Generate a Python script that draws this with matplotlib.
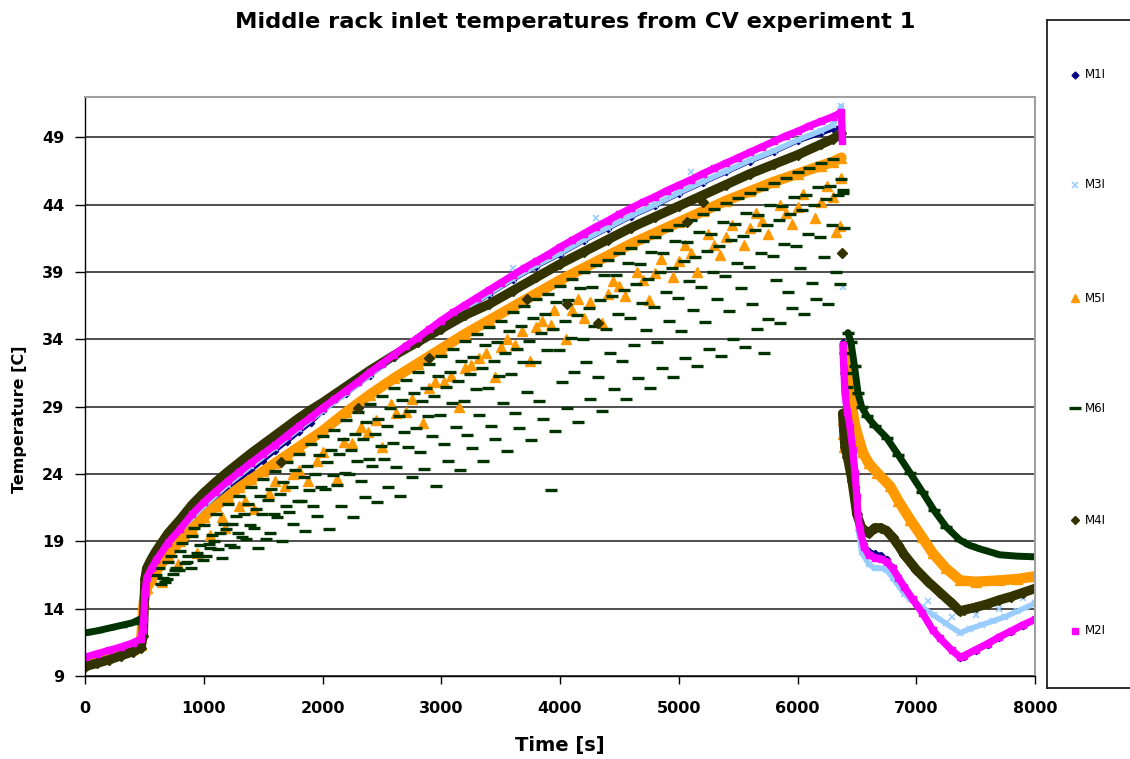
import numpy as np
import matplotlib
matplotlib.use("Agg")
import matplotlib.pyplot as plt
from matplotlib.lines import Line2D

nan = np.nan
W, H = 1130, 759

# ---------------- data ----------------
title = "Middle rack inlet temperatures from CV experiment 1"
x_label = "Time [s]"
y_label = "Temperature [C]"
x_ticks = [0, 1000, 2000, 3000, 4000, 5000, 6000, 7000, 8000]
y_ticks = [9, 14, 19, 24, 29, 34, 39, 44, 49]
series_names = ["M1I", "M3I", "M5I", "M6I", "M4I", "M2I"]

# M2I (magenta squares)
m2i_t = [0, 100, 200, 300, 400, 470, 485, 495, 505, 520, 560, 600, 700, 800, 900, 1000,
         1100, 1200, 1300, 1400, 1500, 1600, 1700, 1800, 1900, 2000, 2100, 2200, 2300,
         2400, 2500, 2600, 2700, 2800, 2900, 3000, 3100, 3200, 3300, 3400, 3500, 3600,
         3700, 3800, 3900, 4000, 4100, 4200, 4300, 4400, 4500, 4600, 4700, 4800, 4900,
         5000, 5100, 5200, 5300, 5400, 5500, 5600, 5700, 5800, 5900, 6000, 6100, 6200,
         6300, 6370, 6378, nan, 6382, 6390, 6400, 6420, 6442, 6465, 6484, 6500, 6510,
         6526, 6560, 6600, 6650, 6700, 6750, 6800, 6850, 6900, 6970, 7050, 7140, 7200,
         7300, 7370, 7400, 7500, 7600, 7700, 7800, 7900, 8000]
m2i_v = [10.4, 10.65, 10.9, 11.15, 11.45, 11.75, 12.4, 13.2, 15.2, 16.3, 17.0, 17.6, 18.9,
         19.9, 21.0, 21.9, 22.7, 23.45, 24.15, 24.85, 25.5, 26.15, 26.85, 27.55, 28.2,
         28.9, 29.55, 30.2, 30.85, 31.55, 32.2, 32.85, 33.5, 34.1, 34.75, 35.4, 36.0,
         36.55, 37.1, 37.65, 38.2, 38.75, 39.3, 39.8, 40.3, 40.85, 41.35, 41.85, 42.35,
         42.8, 43.3, 43.75, 44.2, 44.6, 45.05, 45.45, 45.85, 46.3, 46.7, 47.1, 47.5,
         47.9, 48.3, 48.7, 49.1, 49.45, 49.85, 50.2, 50.55, 50.85, 48.7, nan, 33.6, 31.8,
         30.0, 28.6, 27.5, 25.8, 24.1, 22.3, 20.8, 19.9, 18.6, 18.0, 17.8, 17.7, 17.5,
         17.0, 16.3, 15.6, 14.7, 13.7, 12.4, 11.8, 10.9, 10.4, 10.5, 10.95, 11.4, 11.9,
         12.35, 12.8, 13.2]

# M1I (navy diamonds)
m1i_t = [0, 100, 200, 300, 400, 470, 505, 520, 560, 600, 700, 800, 900, 1000, 1100, 1200,
         1300, 1400, 1500, 1600, 1700, 1800, 1900, 2000, 2200, 2400, 2600, 2800, 3000,
         3200, 3400, 3600, 3800, 4000, 4200, 4400, 4600, 4800, 5000, 5200, 5400, 5600,
         5800, 6000, 6200, 6300, 6370, nan, 6380, 6390, 6400, 6430, 6460, 6490, 6510,
         6530, 6560, 6600, 6650, 6700, 6750, 6800, 6900, 7000, 7100, 7200, 7300, 7370,
         7400, 7500, 7600, 7700, 7800, 7900, 8000]
m1i_v = [10.3, 10.55, 10.8, 11.05, 11.35, 11.65, 14.8, 15.7, 16.3, 16.9, 18.2, 19.3, 20.3,
         21.2, 22.1, 22.9, 23.6, 24.3, 25.0, 25.7, 26.4, 27.1, 27.8, 28.65, 29.95, 31.3,
         32.6, 33.85, 35.1, 36.2, 37.3, 38.4, 39.4, 40.3, 41.3, 42.2, 43.1, 43.9, 44.8,
         45.6, 46.4, 47.2, 47.9, 48.7, 49.3, 49.6, 49.8, nan, 33.8, 32.0, 30.5, 28.5,
         26.0, 23.0, 20.5, 19.5, 18.8, 18.3, 18.1, 18.0, 17.7, 17.1, 15.7, 14.3, 12.9,
         11.8, 10.9, 10.3, 10.4, 10.85, 11.3, 11.8, 12.25, 12.7, 13.1]

# M3I (light blue crosses)
m3i_t = [0, 200, 400, 470, 490, 510, 550, 600, 700, 800, 900, 1000, 1200, 1400, 1600,
         1800, 2000, 2200, 2400, 2600, 2800, 3000, 3200, 3400, 3600, 3800, 4000, 4200,
         4400, 4600, 4800, 5000, 5200, 5400, 5600, 5800, 6000, 6200, 6300, 6370, nan,
         6385, 6400, 6440, 6480, 6510, 6540, 6600, 6650, 6700, 6750, 6800, 6900, 6950,
         7050, 7150, 7250, 7370, 7450, 7550, 7650, 7750, 7850, 8000]
m3i_v = [10.2, 10.75, 11.3, 11.6, 13.8, 15.0, 16.2, 17.2, 18.6, 19.6, 20.6, 21.6, 23.2,
         24.6, 25.95, 27.35, 28.7, 30.0, 31.35, 32.65, 33.9, 35.2, 36.3, 37.4, 38.5,
         39.5, 40.4, 41.4, 42.3, 43.2, 44.0, 44.9, 45.7, 46.5, 47.3, 48.0, 48.8, 49.5,
         49.9, 51.3, nan, 32.5, 29.5, 26.5, 23.0, 20.0, 18.2, 17.3, 17.0, 17.0, 16.9,
         16.3, 15.1, 14.7, 14.1, 13.5, 12.9, 12.2, 12.5, 12.8, 13.1, 13.4, 13.8, 14.4]
m3i_extra_t = [6380, 3600, 4300, 5100, 7100, 7300, 7500, 7700, 7900]
m3i_extra_v = [37.9, 39.3, 43.0, 46.4, 14.6, 13.4, 13.5, 14.0, 14.8]

# M5I (orange triangles): main band + scattered points
m5i_t = [0, 200, 400, 470, 495, 520, 560, 600, 700, 800, 900, 1000, 1100, 1200, 1300,
         1400, 1500, 1600, 1700, 1800, 1900, 2000, 2200, 2400, 2600, 2800, 3000, 3200,
         3400, 3600, 3800, 4000, 4200, 4400, 4600, 4800, 5000, 5200, 5400, 5600, 5800,
         6000, 6200, 6300, 6370, nan, 6400, 6420, 6440, 6460, 6480, 6500, 6550, 6600,
         6670, 6780, 6850, 6950, 7050, 7140, 7250, 7370, 7500, 7700, 7850, 8000]
m5i_v = [10.0, 10.5, 11.0, 11.3, 14.5, 15.5, 16.2, 16.8, 18.0, 19.0, 19.9, 20.8, 21.6,
         22.3, 23.0, 23.6, 24.2, 24.8, 25.4, 26.0, 26.6, 27.2, 28.6, 29.9, 31.1, 32.2,
         33.3, 34.4, 35.4, 36.4, 37.4, 38.4, 39.3, 40.2, 41.1, 41.9, 42.7, 43.5, 44.3,
         45.0, 45.7, 46.3, 46.9, 47.2, 47.5, nan, 33.5, 32.5, 31.0, 29.0, 27.8, 27.1,
         25.6, 24.8, 24.1, 23.1, 22.0, 20.6, 19.3, 18.1, 17.0, 16.1, 16.0, 16.1, 16.2,
         16.4]
m5i_scatter_t = [650, 780, 940, 1050, 1180, 1300, 1420, 1550, 1680, 1800, 1880, 2000,
                 2120, 2250, 2380, 2500, 2620, 2750, 2850, 2950, 3080, 3150, 3250, 3380,
                 3450, 3550, 3680, 3750, 3850, 3950, 4050, 4150, 4250, 4350, 4450, 4550,
                 4650, 4750, 4850, 4950, 5050, 5150, 5250, 5350, 5450, 5550, 5650, 5750,
                 5850, 5950, 6050, 6150, 6250, 6320, 6360, 6370, 6380, 6385, 6390,
                 1150, 1350, 1600, 1750, 1950, 2180, 2320, 2450, 2580, 2700, 2900, 3020,
                 3200, 3320, 3500, 3620, 3800, 3920, 4100, 4200, 4400, 4500, 4700, 4800,
                 5000, 5100, 5300, 5400, 5600, 5700, 5900, 6000, 6200, 6300]
m5i_scatter_v = [16.0, 17.3, 18.1, 19.5, 20.0, 21.6, 21.4, 22.6, 23.1, 24.3, 23.5, 25.6,
                 23.6, 26.3, 27.1, 26.0, 28.5, 29.6, 27.8, 30.8, 31.3, 29.0, 32.1, 33.0,
                 31.2, 34.0, 34.6, 32.4, 35.4, 36.2, 34.0, 37.0, 36.8, 35.2, 38.3, 37.2,
                 39.0, 36.9, 40.0, 38.6, 41.0, 39.0, 41.8, 40.3, 42.5, 41.0, 43.4, 41.8,
                 44.0, 42.6, 44.8, 43.0, 45.4, 42.0, 42.4, 46.0, 28.0, 27.0, 26.0,
                 20.8, 22.0, 23.5, 24.0, 25.0, 26.4, 27.5, 28.0, 29.2, 28.6, 30.4, 30.8,
                 31.9, 32.6, 33.4, 33.6, 34.9, 35.1, 36.2, 35.6, 37.4, 38.0, 38.4, 38.9,
                 39.8, 40.4, 41.0, 41.6, 42.3, 42.8, 43.4, 43.8, 44.2, 44.6]

# M6I (dark green dashes): smooth parts + scattered points during heating
m6i_t = [0, 100, 200, 300, 400, 470, nan, 6425, 6450, 6480, 6510, 6540, 6585, 6650, 6750,
         6850, 6947, 7050, 7150, 7250, 7368, 7450, 7550, 7705, 7850, 8000]
m6i_v = [12.2, 12.35, 12.55, 12.75, 12.95, 13.25, nan, 34.5, 33.8, 32.0, 30.0, 29.0, 28.3,
         27.6, 26.7, 25.4, 24.1, 22.7, 21.3, 20.1, 19.1, 18.7, 18.4, 18.0, 17.9, 17.85]
m6i_scatter_base_t = list(range(600, 6400, 100))
m6i_scatter_v1 = [16.5, 17.5, 18.3, 19.4, 20.2, 21.0, 21.8, 22.4, 23.0, 23.6, 24.2, 24.9,
                  25.5, 26.2, 26.8, 27.3, 28.0, 28.6, 29.2, 29.8, 30.4, 31.0, 31.6, 32.2,
                  32.8, 33.3, 33.9, 34.4, 34.9, 35.4, 36.0, 36.5, 37.0, 37.4, 38.0, 38.5,
                  39.0, 39.5, 39.9, 40.4, 40.8, 41.3, 41.6, 42.1, 42.5, 42.9, 43.3, 43.7,
                  44.1, 44.5, 44.9, 45.2, 45.6, 46.0, 46.4, 46.7, 47.1, 47.4]
m6i_scatter_v2 = [15.8, 16.6, 17.4, 18.1, 18.8, 19.6, 20.3, 21.0, 21.4, 22.1, 22.5, 23.0,
                  23.8, 24.0, 24.9, 25.5, 25.8, 26.6, 27.0, 27.6, 28.3, 28.7, 29.4, 29.8,
                  30.5, 30.9, 31.4, 31.9, 32.4, 33.0, 33.3, 33.9, 34.5, 34.8, 35.4, 35.8,
                  36.3, 36.9, 37.2, 37.7, 38.1, 38.5, 39.0, 39.3, 39.8, 40.1, 40.6, 40.9,
                  41.4, 41.7, 42.1, 42.5, 42.9, 43.3, 43.6, 44.0, 44.4, 44.7]
m6i_scatter_v3 = [17.0, 17.9, 18.9, 20.0, 17.9, 18.4, 18.7, 19.3, 20.0, 19.2, 20.8, 21.2,
                  22.0, 21.6, 22.9, 23.2, 24.0, 23.5, 24.6, 25.1, 24.5, 26.0, 25.6, 26.8,
                  26.2, 27.5, 26.9, 28.4, 27.6, 29.3, 28.5, 30.1, 29.4, 22.8, 30.8, 31.6,
                  32.3, 31.2, 33.0, 32.4, 33.6, 34.7, 33.8, 35.4, 34.6, 36.2, 35.3, 37.0,
                  36.1, 37.8, 36.6, 33.0, 38.4, 37.5, 39.3, 38.2, 40.1, 39.0]
m6i_scatter_v4 = [16.0, 17.0, 17.9, 18.7, 19.5, 20.3, 20.9, 21.8, 22.4, 22.9, 23.4, 24.3,
                  24.6, 25.4, 25.8, 26.6, 27.0, 27.9, 28.1, 28.9, 29.5, 30.0, 30.4, 31.3,
                  31.6, 32.4, 32.7, 33.6, 33.8, 34.6, 35.0, 35.6, 35.9, 36.8, 36.9, 37.8,
                  37.9, 38.8, 38.8, 39.7, 39.6, 40.5, 40.4, 41.3, 41.2, 42.0, 41.8, 42.7,
                  42.6, 43.4, 43.2, 44.0, 43.9, 44.6, 44.7, 45.3, 45.4, 45.9]
m6i_scatter_v5 = [16.3, 16.9, 17.5, 17.9, 18.5, 17.8, 18.6, 19.2, 18.5, 19.6, 19.0, 20.3,
                  19.8, 20.9, 19.9, 21.6, 20.8, 22.3, 21.9, 23.0, 22.4, 23.8, 24.4, 23.1,
                  25.0, 24.3, 25.9, 25.0, 26.6, 25.7, 27.4, 26.5, 28.1, 27.2, 28.9, 27.9,
                  29.6, 28.7, 30.3, 29.6, 31.1, 30.4, 31.9, 31.2, 32.6, 32.0, 33.3, 32.8,
                  34.0, 33.4, 34.8, 35.5, 35.2, 36.3, 35.9, 37.0, 36.6, 38.1]
m6i_scatter_v6 = [16.2, 16.9, 17.0, 17.6, 19.0, 19.9, 19.6, 20.2, 21.0, 21.0, 21.6, 22.0,
                  22.8, 23.0, 23.9, 24.1, 25.0, 25.1, 26.1, 26.3, 27.1, 27.4, 28.3, 28.4,
                  29.3, 29.4, 30.3, 30.4, 31.3, 31.4, 32.3, 32.3, 33.2, 33.2, 34.1, 34.0,
                  35.0, 34.8, 35.9, 35.6, 36.7, 36.4, 37.5, 37.1, 38.3, 37.9, 39.0, 38.7,
                  39.7, 39.4, 40.4, 40.2, 41.1, 40.9, 41.8, 41.6, 42.5, 42.3]
m6i_extra_t = [6380, 6380, 6400, 6410, 6420]
m6i_extra_v = [45.1, 44.9, 33.0, 31.5, 30.5]

# M4I (dark olive diamonds)
m4i_t = [0, 100, 200, 300, 400, 470, 490, 505, 520, 560, 600, 700, 800, 900, 1000, 1100,
         1200, 1300, 1400, 1500, 1600, 1700, 1800, 1900, 2000, 2200, 2400, 2600, 2800,
         3000, 3200, 3400, 3600, 3800, 4000, 4200, 4400, 4600, 4800, 5000, 5200, 5400,
         5600, 5800, 6000, 6200, 6300, 6370, nan, 6380, 6390, 6400, 6420, 6460, 6500,
         6540, 6600, 6650, 6700, 6750, 6800, 6850, 6900, 7000, 7100, 7200, 7300, 7370,
         7400, 7500, 7600, 7700, 7800, 7900, 8000]
m4i_v = [9.7, 9.95, 10.2, 10.5, 10.8, 11.1, 12.0, 16.2, 17.0, 17.7, 18.3, 19.6, 20.6, 21.7,
         22.6, 23.4, 24.15, 24.85, 25.55, 26.2, 26.85, 27.5, 28.15, 28.75, 29.3, 30.5,
         31.7, 32.8, 33.8, 34.8, 35.8, 36.6, 37.6, 38.6, 39.6, 40.5, 41.4, 42.3, 43.1,
         43.9, 44.7, 45.5, 46.3, 47.0, 47.7, 48.5, 48.9, 49.3, nan, 28.5, 27.2, 26.0,
         25.3, 23.5, 21.0, 20.0, 19.6, 20.0, 20.0, 19.8, 19.3, 18.7, 18.0, 16.9, 16.0,
         15.2, 14.4, 13.8, 13.9, 14.1, 14.35, 14.65, 14.9, 15.2, 15.5]
m4i_extra_t = [6378, 3720, 4060, 4320, 5070, 5200, 2300, 2900, 1650]
m4i_extra_v = [40.4, 37.0, 36.6, 35.2, 42.7, 44.2, 28.9, 32.6, 24.9]

# ---------------- styling ----------------
C_M1I = "#000080"
C_M3I = "#99CCFF"
C_M5I = "#FF9900"
C_M6I = "#003300"
C_M4I = "#333300"
C_M2I = "#FF00FF"

plt.rcParams["font.family"] = ["DejaVu Sans"]

fig = plt.figure(figsize=(W / 100, H / 100), dpi=100)
fig.patch.set_facecolor("white")


def fx(px):
    return px / W


def fy(py):
    return 1 - py / H


ax = fig.add_axes([fx(85), fy(676), fx(1035) - fx(85), fy(97) - fy(676)])
ax.set_xlim(0, 8000)
ax.set_ylim(9, 52)


def band(t, v, color, marker, ms, lw, mew=1.0):
    ax.plot(t, v, color=color, lw=lw, marker=marker, ms=ms, mfc=color, mec=color,
            mew=mew, solid_capstyle="round", solid_joinstyle="round")


def dots(t, v, color, marker, ms, mew=1.0):
    ax.plot(t, v, ls="none", color=color, marker=marker, ms=ms, mfc=color, mec=color,
            mew=mew)


# draw in Excel series order (M2I on top)
band(m1i_t, m1i_v, C_M1I, "D", 3.2, 3.0)
band(m3i_t, m3i_v, C_M3I, "x", 5.0, 4.0, mew=1.2)
dots(m3i_extra_t, m3i_extra_v, C_M3I, "x", 5.0, mew=1.2)
band(m5i_t, m5i_v, C_M5I, "^", 7.0, 7.5)
dots(m5i_scatter_t, m5i_scatter_v, C_M5I, "^", 6.5)
band(m6i_t, m6i_v, C_M6I, "_", 8.0, 5.0, mew=2.5)
base = np.array(m6i_scatter_base_t)
for off, vals in [(0, m6i_scatter_v1), (40, m6i_scatter_v2), (20, m6i_scatter_v3),
                  (70, m6i_scatter_v4), (55, m6i_scatter_v5), (90, m6i_scatter_v6)]:
    dots(base + off, vals, C_M6I, "_", 8.0, mew=2.4)
dots(m6i_extra_t, m6i_extra_v, C_M6I, "_", 8.0, mew=2.4)
band(m4i_t, m4i_v, C_M4I, "D", 5.5, 6.8)
dots(m4i_extra_t, m4i_extra_v, C_M4I, "D", 5.0)
band(m2i_t, m2i_v, C_M2I, "s", 4.5, 5.2)

# axes cosmetics
ax.set_xticks(x_ticks)
ax.set_yticks(y_ticks)
ax.set_xticklabels([str(v) for v in x_ticks], fontsize=11.5, fontweight="bold")
ax.set_yticklabels([str(v) for v in y_ticks], fontsize=11.5, fontweight="bold")
ax.tick_params(axis="x", direction="out", length=6, width=1.0, color="black", pad=12)
ax.tick_params(axis="y", direction="out", length=7, width=1.0, color="black", pad=8)
ax.grid(axis="y", color="#303030", lw=1.2)
ax.set_axisbelow(True)
for s in ["left", "bottom"]:
    ax.spines[s].set_color("black")
    ax.spines[s].set_linewidth(1.0)
for s in ["top", "right"]:
    ax.spines[s].set_color("#A0A0A0")
    ax.spines[s].set_linewidth(1.5)

fig.text(fx(575), fy(22), title, ha="center", va="center", fontsize=16.2, fontweight="bold")
fig.text(fx(560), fy(745), x_label, ha="center", va="center", fontsize=14, fontweight="bold")
fig.text(fx(20), fy(419), y_label, ha="center", va="center", rotation=90, fontsize=11.5,
         fontweight="bold")

# legend box (Excel style, cut at the right edge of the image)
lax = fig.add_axes([fx(1047), fy(688), fx(1140) - fx(1047), fy(20) - fy(688)])
lax.set_xlim(0, 1)
lax.set_ylim(0, 1)
lax.set_xticks([])
lax.set_yticks([])
for s in lax.spines.values():
    s.set_color("#202020")
    s.set_linewidth(1.3)
lax.set_facecolor("white")

legend_y = [75, 185, 298, 408, 520, 631]
legend_style = [
    (C_M1I, "D", 3.5, 1.0),
    (C_M3I, "x", 4.5, 1.2),
    (C_M5I, "^", 6.0, 1.0),
    (C_M6I, "_", 8.0, 2.4),
    (C_M4I, "D", 4.5, 1.0),
    (C_M2I, "s", 5.0, 1.0),
]
for name, yy, (col, mk, ms, mew) in zip(series_names, legend_y, legend_style):
    fig.add_artist(Line2D([fx(1075)], [fy(yy)], transform=fig.transFigure, ls="none",
                          marker=mk, ms=ms, mfc=col, mec=col, mew=mew))
    fig.text(fx(1085), fy(yy), name, ha="left", va="center", fontsize=8.5)

fig.savefig("out.png", dpi=100, facecolor="white")
